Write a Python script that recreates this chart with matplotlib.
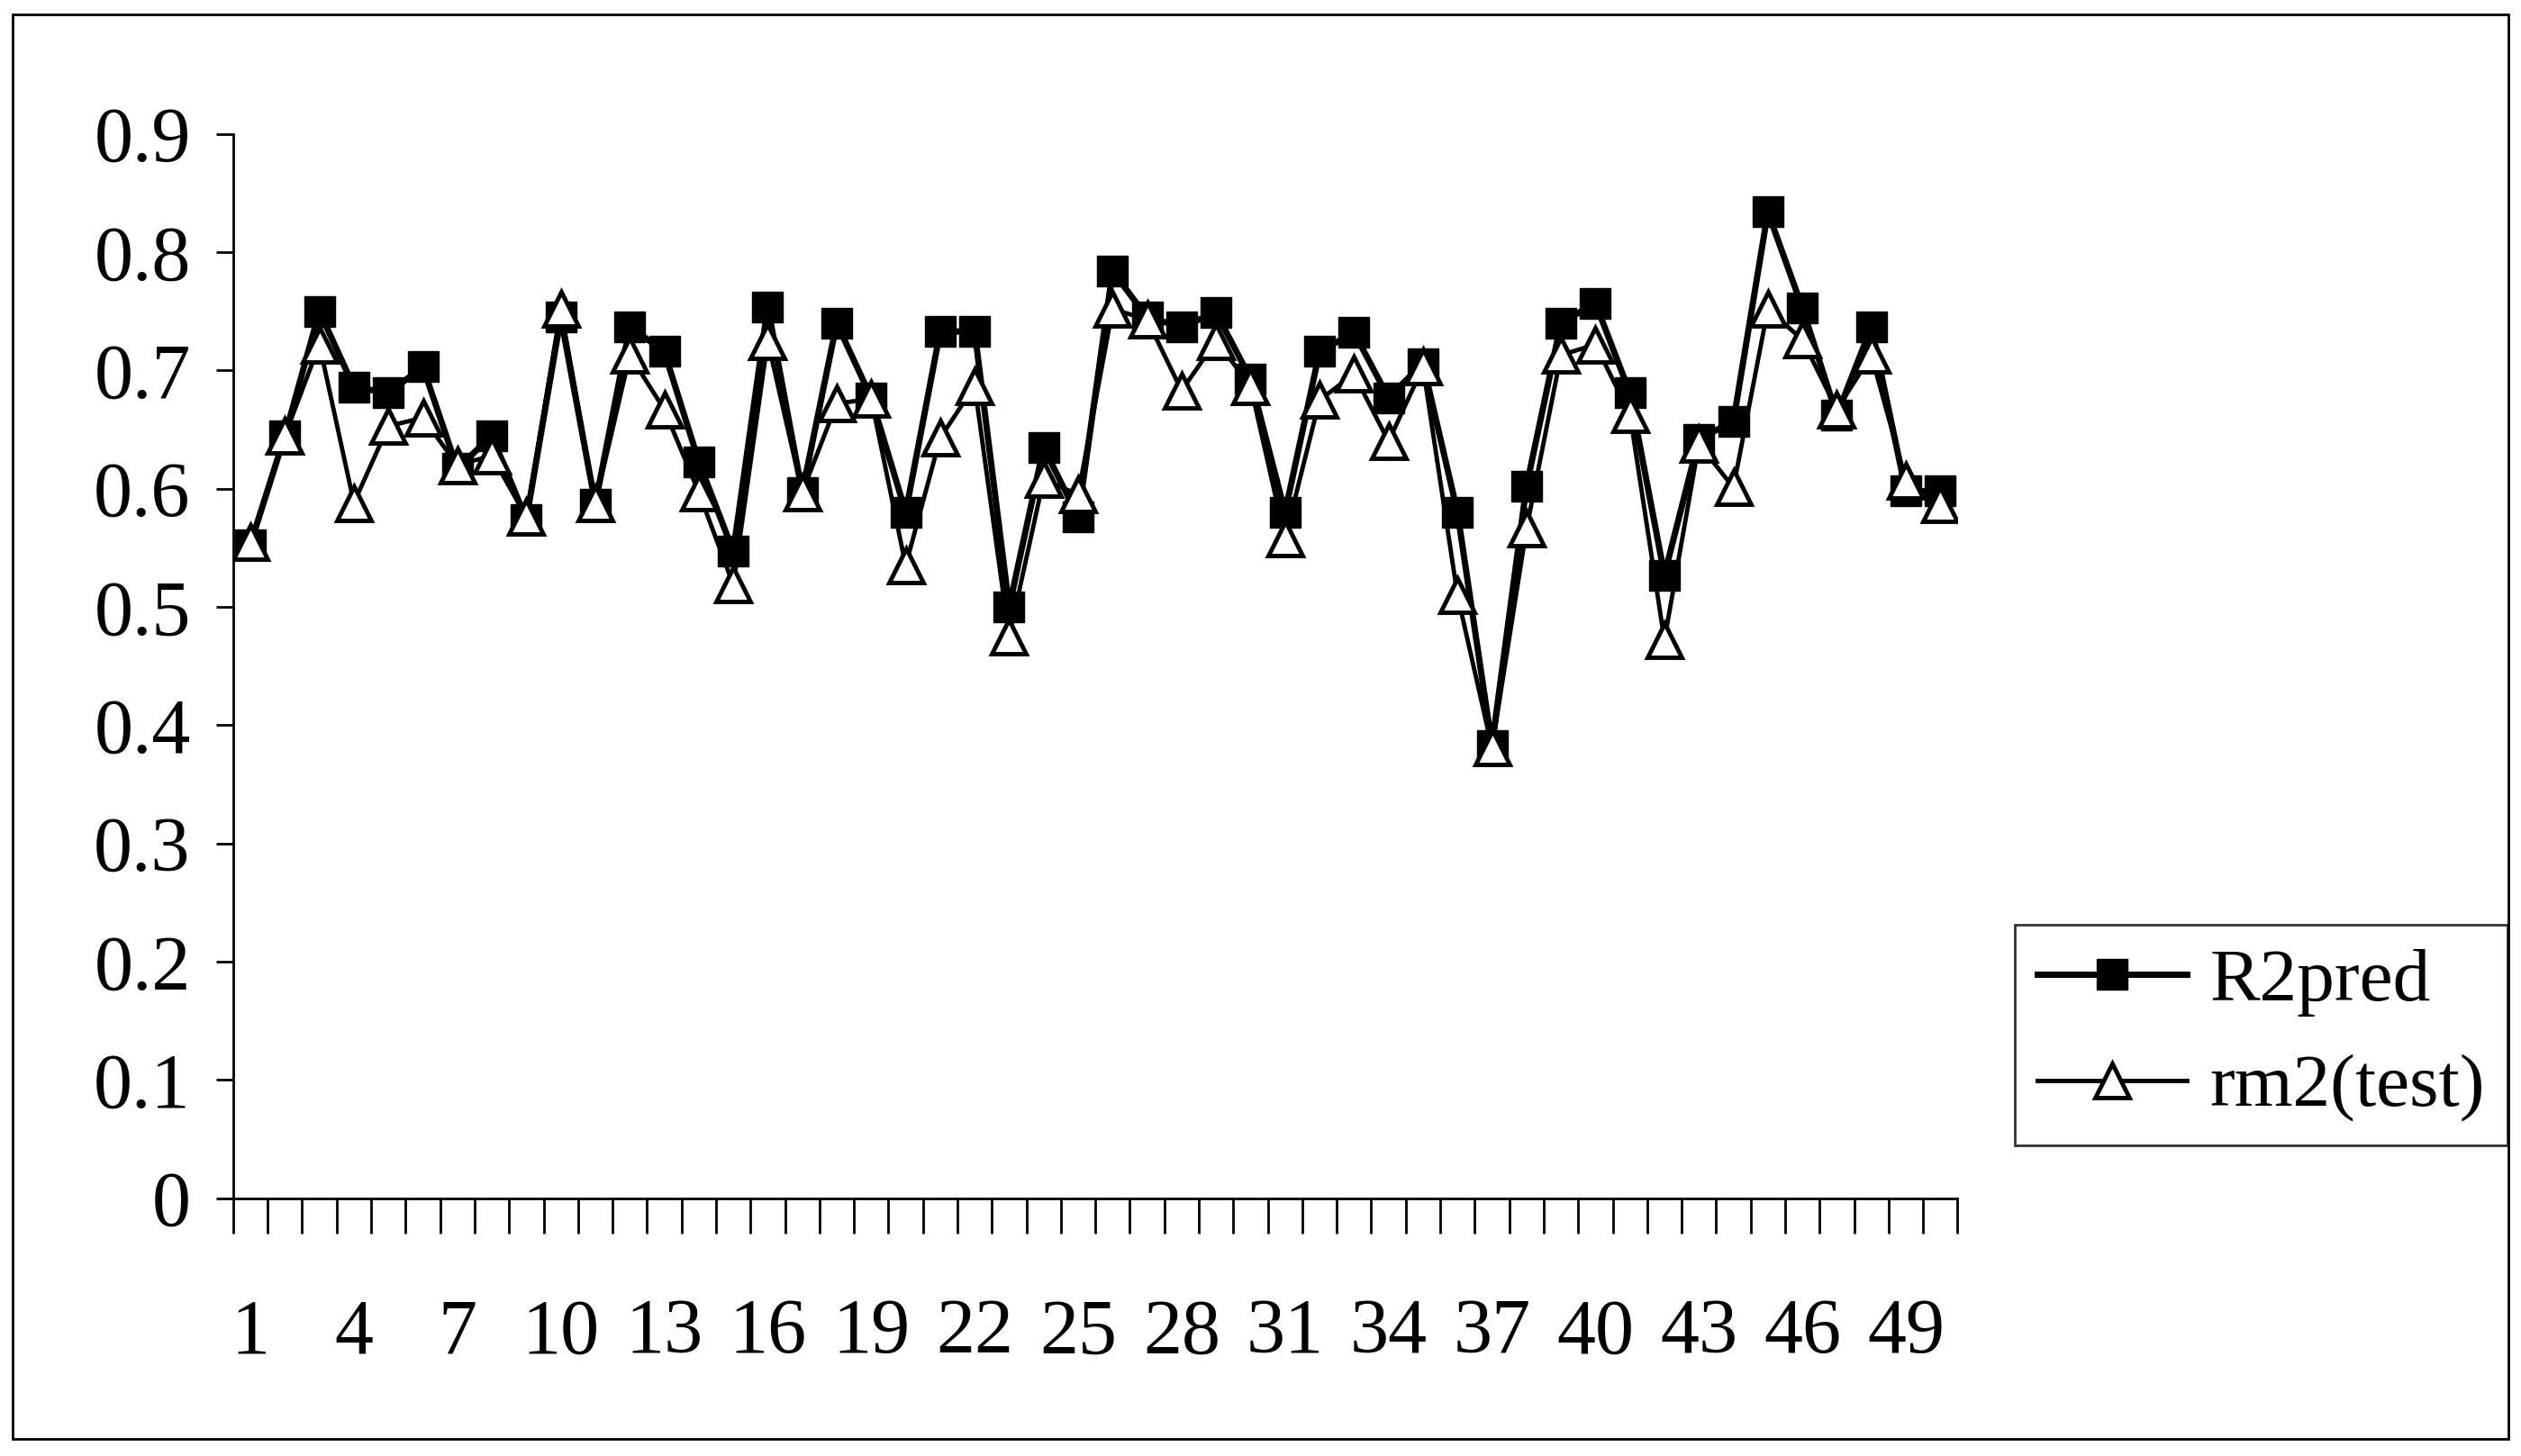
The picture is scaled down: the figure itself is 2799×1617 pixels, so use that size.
import matplotlib.pyplot as plt
import numpy as np
from matplotlib.patches import Rectangle

plt.rcParams['font.family'] = ['Liberation Serif', 'DejaVu Serif']

idx = list(range(1, 51))
r2pred = [0.553, 0.645, 0.750, 0.686, 0.681, 0.703, 0.617, 0.645, 0.574, 0.745,
          0.587, 0.737, 0.716, 0.623, 0.547, 0.754, 0.597, 0.740, 0.677, 0.580,
          0.733, 0.733, 0.500, 0.635, 0.576, 0.784, 0.745, 0.737, 0.749, 0.693,
          0.580, 0.716, 0.732, 0.677, 0.706, 0.580, 0.383, 0.602, 0.740, 0.757,
          0.681, 0.527, 0.642, 0.657, 0.834, 0.753, 0.662, 0.737, 0.598, 0.598]
rm2_test = [0.555, 0.645, 0.722, 0.588, 0.653, 0.660, 0.620, 0.628, 0.576, 0.752,
            0.588, 0.713, 0.667, 0.597, 0.519, 0.725, 0.597, 0.672, 0.676, 0.535,
            0.643, 0.687, 0.475, 0.608, 0.595, 0.752, 0.743, 0.683, 0.725, 0.687,
            0.558, 0.675, 0.697, 0.640, 0.703, 0.510, 0.381, 0.566, 0.713, 0.722,
            0.663, 0.472, 0.638, 0.601, 0.752, 0.726, 0.667, 0.713, 0.607, 0.587]
xlabels = [str(i) for i in range(1, 51, 3)]

fig = plt.figure(figsize=(27.99, 16.17), dpi=100)
fig.patches.append(Rectangle((0.005, 0.012), 0.99, 0.978, transform=fig.transFigure,
                             fill=False, lw=2, ec='black'))
ax = fig.add_axes([0.0925, 0.177, 0.684, 0.731])

ax.plot(idx, r2pred, color='black', lw=5, marker='s', ms=24, mfc='black',
        mec='black', label='R2pred')
ax.plot(idx, rm2_test, color='black', lw=3.5, marker='^', ms=27, mfc='white',
        mec='black', mew=3.5, label='rm2(test)')

ax.set_xlim(0.5, 50.5)
ax.set_ylim(0, 0.9)
ax.set_yticks(np.arange(0, 0.91, 0.1))
ax.set_yticklabels(['0'] + [f'{v:.1f}' for v in np.arange(0.1, 0.91, 0.1)])
ax.set_xticks(np.arange(0.5, 51, 1))
ax.set_xticklabels([])
ax.set_xticks(range(1, 51, 3), minor=True)
ax.set_xticklabels(xlabels, minor=True)
ax.tick_params(axis='x', which='major', direction='out', length=28, width=2)
ax.tick_params(axis='x', which='minor', length=0, pad=80, labelsize=62)
ax.tick_params(axis='y', direction='out', length=14, width=2, labelsize=62, pad=20)
for s in ['top', 'right']:
    ax.spines[s].set_visible(False)
for s in ['left', 'bottom']:
    ax.spines[s].set_linewidth(2)

leg = ax.legend(loc='lower left', bbox_to_anchor=(1.033, 0.05), fontsize=60,
                frameon=True, fancybox=False, edgecolor='black', handlelength=2.0,
                handletextpad=0.3, borderpad=0.3, borderaxespad=0,
                labelspacing=0.5)
leg.get_frame().set_linewidth(2)

fig.savefig('out.png', dpi=100)
